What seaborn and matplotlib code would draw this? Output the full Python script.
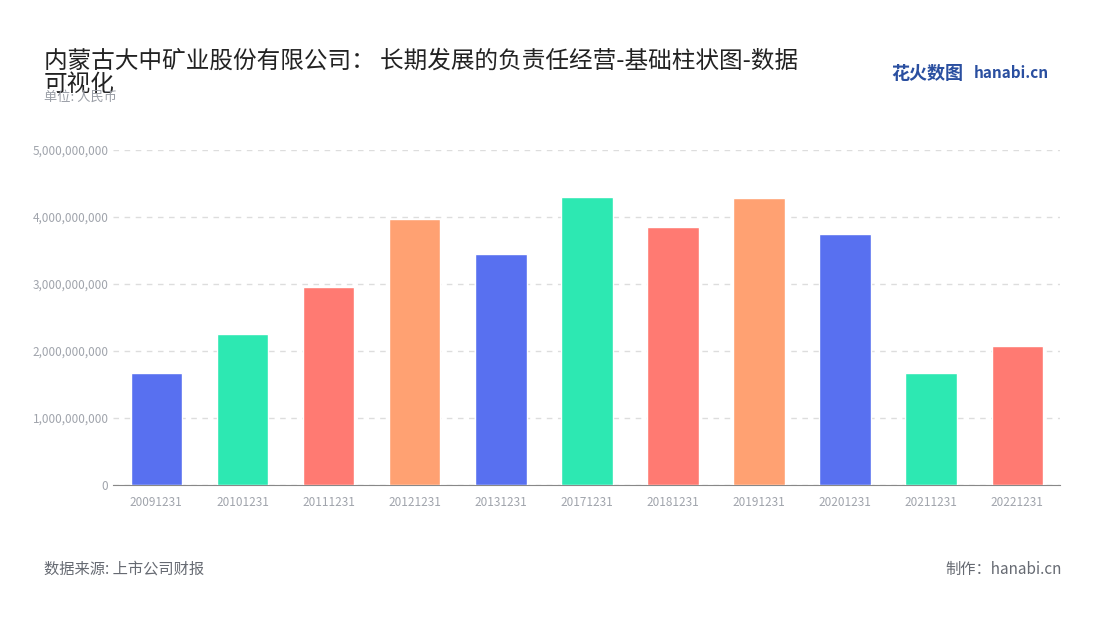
import numpy as np
import pandas as pd
import matplotlib.pyplot as plt
import seaborn as sns

years = ['20091231', '20101231', '20111231', '20121231', '20131231', '20171231',
         '20181231', '20191231', '20201231', '20211231', '20221231']
values = [1.67e9, 2.25e9, 2.95e9, 3.97e9, 3.45e9, 4.30e9,
          3.85e9, 4.29e9, 3.74e9, 1.67e9, 2.07e9]
palette = ['#5870F0', '#2DE8B2', '#FF7A72', '#FFA172']

sns.set_style('white')
plt.rcParams['font.family'] = ['Noto Sans CJK SC', 'DejaVu Sans']

df = pd.DataFrame({'year': years, 'value': values})
colors = [palette[i % 4] for i in range(len(years))]

fig = plt.figure(figsize=(11, 6.2), dpi=100)
ax = fig.add_axes([0.103, 0.218, 0.861, 0.54])
sns.barplot(data=df, x='year', y='value', hue='year', palette=colors,
            legend=False, width=0.6, saturation=1, ax=ax, zorder=3)

ax.set_ylim(0, 5e9)
ax.set_yticks(np.arange(0, 5.01e9, 1e9))
ax.set_yticklabels([f'{int(v):,}' for v in np.arange(0, 5.01e9, 1e9)])
ax.yaxis.grid(True, linestyle=(0, (4, 4)), color='#DDDDDD', linewidth=1, zorder=0)
ax.tick_params(axis='both', labelsize=8.5, colors='#A0A4AC', length=0)
ax.tick_params(axis='x', length=4, color='#888888', pad=4)
for s in ['top', 'right', 'left']:
    ax.spines[s].set_visible(False)
ax.spines['bottom'].set_color('#888888')
ax.set_xlabel('')
ax.set_ylabel('')

fig.text(0.04, 0.845, '内蒙古大中矿业股份有限公司： 长期发展的负责任经营-基础柱状图-数据\n可视化',
         fontsize=17, color='#222222', va='bottom', linespacing=1.05)
fig.text(0.04, 0.838, '单位: 人民币', fontsize=9.5, color='#9A9EA6')
fig.text(0.04, 0.075, '数据来源: 上市公司财报', fontsize=11, color='#666A72')
fig.text(0.965, 0.075, '制作：hanabi.cn', fontsize=11, color='#666A72', ha='right')
fig.text(0.81, 0.872, '花火数图', fontsize=13, color='#2A4FA0', fontweight='bold')
fig.text(0.885, 0.874, 'hanabi.cn', fontsize=11, color='#2A4FA0', fontweight='bold')

fig.savefig('out.png', dpi=100)
